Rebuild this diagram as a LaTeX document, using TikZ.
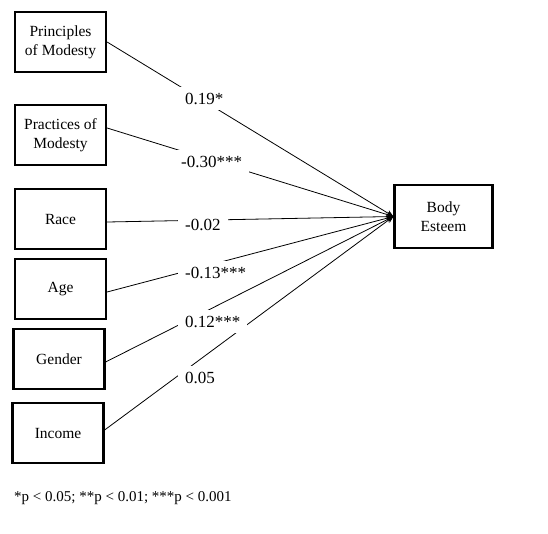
\documentclass[tikz,border=0pt]{standalone}
\usepackage{fontspec}
\setmainfont{Liberation Serif}
\usetikzlibrary{arrows.meta,positioning}
\tikzset{
    var/.style={draw, line width=2.2pt, minimum width=91pt, minimum height=60pt, align=center, font=\fontsize{15.5}{19}\selectfont},
    path/.style={draw, line width=0.8pt, -{Stealth[length=7pt, width=6pt]}},
    coef/.style={anchor=base west, fill=white, inner xsep=7pt, inner ysep=6pt, font=\fontsize{17}{20}\selectfont}
}

\begin{document}
\begin{tikzpicture}[x=1pt, y=-1pt]
    \useasboundingbox (0,0) rectangle (548,533);
    % Nodes
    \node[var] (prin) at (60.5,42) {Principles\\of Modesty};
    \node[var] (prac) at (60.5,135) {Practices of\\Modesty};
    \node[var] (race) at (60.5,219) {Race};
    \node[var] (age) at (60.5,289) {Age};
    \node[var] (gend) at (59,359) {Gender};
    \node[var] (inc) at (58,433) {Income};
    \node[var, minimum width=98pt, minimum height=63pt] (est) at (443.5,216.5) {Body\\Esteem};

    % edges
    \draw[path] (prin.east) -- (est.west);
    \draw[path] ([yshift=7pt]prac.east) -- (est.west);
    \draw[path] ([yshift=-3pt]race.east) -- (est.west);
    \draw[path] ([yshift=-3pt]age.east) -- (est.west);
    \draw[path] ([yshift=-3pt]gend.east) -- (est.west);
    \draw[path] ([yshift=3pt]inc.east) -- (est.west);

    % coefficients
    \node[coef] (c1) at (178,104) {0.19*};
    \node[coef] (c2) at (174,167) {-0.30***};
    \node[coef] (c3) at (178,230) {-0.02};
    \node[coef] (c4) at (178,278) {-0.13***};
    \node[coef] (c5) at (178,327) {0.12***};
    \node[coef] (c6) at (178,383) {0.05};

    \node[anchor=base west, inner sep=0pt, font=\fontsize{15}{18}\selectfont] (note) at (14,501) {*p < 0.05; **p < 0.01; ***p < 0.001};
\end{tikzpicture}
\end{document}
